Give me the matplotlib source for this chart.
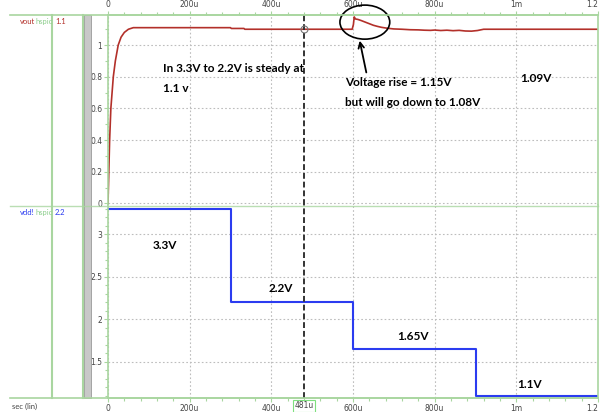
import matplotlib
matplotlib.use("Agg")
import matplotlib.pyplot as plt
from matplotlib.lines import Line2D
from matplotlib.patches import Ellipse, Rectangle

# vout (hspice) - time in us, volts
vout_t = [0, 2, 4, 7, 10, 13, 18, 25, 32, 40, 50, 62, 300, 302, 333, 335,
          598, 601, 603, 606, 612, 620, 630, 640, 650, 660, 670, 685, 700,
          720, 740, 760, 775, 790, 800, 815, 830, 845, 860, 875, 890, 905,
          920, 1200]
vout_v = [0, 0.2, 0.4, 0.6, 0.7, 0.8, 0.9, 1.0, 1.05, 1.08, 1.1, 1.11, 1.11,
          1.105, 1.105, 1.1, 1.1, 1.13, 1.178, 1.165, 1.162, 1.155, 1.145,
          1.135, 1.125, 1.118, 1.112, 1.106, 1.102, 1.1, 1.097, 1.096, 1.094,
          1.093, 1.095, 1.092, 1.094, 1.091, 1.093, 1.089, 1.088, 1.092, 1.1,
          1.1]

# vdd! supply steps
vdd_t = [0, 300, 600, 900, 1200]
vdd_v = [3.3, 2.2, 1.65, 1.1, 1.1]

xticks = [0, 200, 400, 600, 800, 1000, 1200]
xlabels = ["0", "200u", "400u", "600u", "800u", "1m", "1.2"]
top_yticks = [0, 0.2, 0.4, 0.6, 0.8, 1]
top_ylabels = ["0", "0.2", "0.4", "0.6", "0.8", "1"]
bot_yticks = [1.5, 2, 2.5, 3]
bot_ylabels = ["1.5", "2", "2.5", "3"]
cursor = 481

W, H = 602, 412
GREEN = "#a9d6a0"
RED = "#b3302a"
BLUE = "#2b3cf0"
GRID = "#bdbdbd"
TXT = "Lato"

fig = plt.figure(figsize=(W / 100, H / 100), dpi=100)


def fx(px):
    return px / W


def fy(py):
    return 1 - py / H


ax1 = fig.add_axes([fx(108), fy(205), 490 / W, 190 / H])
ax2 = fig.add_axes([fx(108), fy(398), 490 / W, 193 / H])

for ax in (ax1, ax2):
    ax.set_xlim(0, 1200)
    ax.set_xticks(xticks)
    ax.set_xticks(range(0, 1201, 40), minor=True)
    ax.grid(True, which="major", color=GRID, linestyle=(0, (1.5, 2)), lw=0.8)
    for s in ax.spines.values():
        s.set_color(GREEN)
        s.set_linewidth(1.2)
    ax.tick_params(which="both", colors=GREEN, labelcolor="#444", labelsize=5.5,
                   length=3, width=0.8, pad=1)
    ax.tick_params(which="minor", length=2)
    ax.axvline(cursor, color="#333333", ls=(0, (3, 1.5)), lw=1.4, zorder=5)

ax1.spines["bottom"].set_visible(False)
ax2.spines["top"].set_visible(False)

ax1.plot(vout_t, vout_v, color=RED, lw=1.2)
ax1.set_ylim(-0.01, 1.19)
ax1.set_yticks(top_yticks, top_ylabels)
ax1.set_yticks([0.1, 0.3, 0.5, 0.7, 0.9, 1.1], minor=True)
ax1.set_xticklabels(xlabels)
ax1.tick_params(axis="x", which="both", top=True, labeltop=True, bottom=False,
                labelbottom=False)
ax1.plot([cursor], [1.1], marker="o", ms=5, mfc="none", mec="#777777", mew=0.8,
         zorder=6)

ax2.step(vdd_t, vdd_v, where="post", color=BLUE, lw=1.5)
ax2.set_ylim(1.073, 3.345)
ax2.set_yticks(bot_yticks, bot_ylabels)
ax2.set_yticks([1.1, 1.2, 1.3, 1.4, 1.6, 1.7, 1.8, 1.9, 2.1, 2.2, 2.3, 2.4,
                2.6, 2.7, 2.8, 2.9, 3.1, 3.2, 3.3], minor=True)
ax2.set_xticklabels(xlabels)

# last tick label sits against the right edge
for ax in (ax1, ax2):
    for lab in ax.get_xticklabels():
        if lab.get_text() == "1.2":
            lab.set_horizontalalignment("right")

# annotations on top panel
bold = dict(family=TXT, fontweight="bold", fontsize=8.5, color="black")
fig.text(fx(163), fy(68), "In 3.3V to 2.2V is steady at", va="center", **bold)
fig.text(fx(163), fy(88), "1.1 v", va="center", **bold)
fig.text(fx(345), fy(83), "Voltage rise = 1.15V", va="center", **bold)
fig.text(fx(345), fy(103), "but will go down to 1.08V", va="center", **bold)
fig.text(fx(520), fy(78), "1.09V", va="center", **bold)

ax1.add_patch(Ellipse((629, 1.145), 122, 0.215, fill=False, ec="black", lw=1.2,
                      clip_on=False, zorder=7))
ax1.annotate("", xy=(615, 1.045), xytext=(634, 0.81),
             arrowprops=dict(arrowstyle="->", color="black", lw=1.3))

# step labels on bottom panel
fig.text(fx(165), fy(246), "3.3V", ha="center", va="center", **bold)
fig.text(fx(281), fy(289), "2.2V", ha="center", va="center", **bold)
fig.text(fx(413), fy(336), "1.65V", ha="center", va="center", **bold)
fig.text(fx(530), fy(385), "1.1V", ha="center", va="center", **bold)

# cursor label
fig.text(fx(304), fy(406), "481u", ha="center", va="center", fontsize=5.5,
         color="#444", bbox=dict(boxstyle="square,pad=0.15", fc="white",
                                 ec="#7fe07f", lw=0.8))

# frame lines and left panel
for y in (15, 398):
    fig.add_artist(Line2D([fx(10), fx(598)], [fy(y), fy(y)], color=GREEN, lw=1.2))
fig.add_artist(Line2D([fx(10), fx(598)], [fy(205.5), fy(205.5)], color=GREEN,
                      lw=1.0, alpha=0.8))
for x in (52, 83):
    fig.add_artist(Line2D([fx(x), fx(x)], [fy(15), fy(398)], color=GREEN, lw=1.5))
fig.add_artist(Rectangle((fx(84), fy(398)), 7 / W, 383 / H, fc="#c8c8c8",
                         ec="#9a9a9a", lw=0.6, transform=fig.transFigure))

small = dict(family=TXT, fontsize=5.5, va="center")
fig.text(fx(20), fy(21.5), "vout", color=RED, **small)
fig.text(fx(36), fy(21.5), "hspic", color="#8fcf8f", **small)
fig.text(fx(55), fy(21.5), "1.1", color=RED, **small)
fig.text(fx(20), fy(212.5), "vdd!", color=BLUE, **small)
fig.text(fx(36), fy(212.5), "hspic", color="#8fcf8f", **small)
fig.text(fx(55), fy(212.5), "2.2", color=BLUE, **small)
fig.text(fx(12), fy(406), "sec (lin)", color="#444", **small)

fig.savefig("out.png", dpi=100)
